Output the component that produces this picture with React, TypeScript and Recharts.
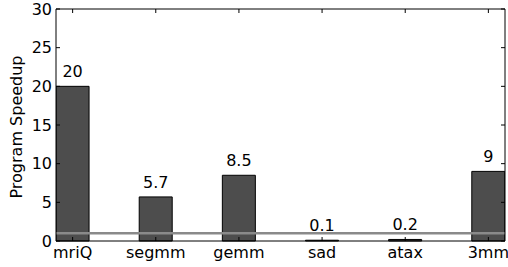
import React from 'react';
import { BarChart, Bar, XAxis, YAxis, ReferenceLine, LabelList } from 'recharts';

const benchmarks = ['mriQ', 'segmm', 'gemm', 'sad', 'atax', '3mm'];
const speedups = [20, 5.7, 8.5, 0.1, 0.2, 9];
const yTicks = [0, 5, 10, 15, 20, 25, 30];
const xTicks = [0, 1, 2, 3, 4, 5];
const baseline = 1;

const data = benchmarks.map((name, i) => ({ pos: i, name, speedup: speedups[i] }));

const FONT = '"DejaVu Sans", sans-serif';

const BottomTick: React.FC<any> = ({ x, y, payload }) => (
  <g>
    <line x1={x} y1={y} x2={x} y2={y - 4} stroke="#000" />
    <text x={x} y={y + 17} textAnchor="middle" fontSize={16} fontFamily={FONT} fill="#000">
      {benchmarks[payload.value]}
    </text>
  </g>
);

const TopTick: React.FC<any> = ({ x, y }) => (
  <line x1={x} y1={y} x2={x} y2={y + 4} stroke="#000" />
);

const LeftTick: React.FC<any> = ({ x, y, payload }) => (
  <g>
    <line x1={x} y1={y} x2={x + 4} y2={y} stroke="#000" />
    <text x={x - 4} y={y + 5.5} textAnchor="end" fontSize={16} fontFamily={FONT} fill="#000">
      {payload.value}
    </text>
  </g>
);

const RightTick: React.FC<any> = ({ x, y }) => (
  <line x1={x} y1={y} x2={x - 4} y2={y} stroke="#000" />
);

const AxisTitle: React.FC<any> = () => (
  <text
    x={22}
    y={127}
    transform="rotate(-90 22 127)"
    textAnchor="middle"
    fontSize={16}
    fontFamily={FONT}
    fill="#000"
  >
    Program Speedup
  </text>
);

export default function App() {
  return (
    <div style={{ position: 'fixed', left: 0, top: 0, background: '#fff' }}>
      <BarChart width={508} height={267} data={data} margin={{ top: 9, right: 3, bottom: 0, left: 0 }}>
        <XAxis
          dataKey="pos"
          type="number"
          domain={[-0.2, 5.2]}
          ticks={xTicks}
          allowDataOverflow
          height={26}
          tickSize={0}
          tickMargin={0}
          tickLine={false}
          axisLine={{ stroke: '#000' }}
          tick={<BottomTick />}
          interval={0}
        />
        <XAxis
          xAxisId="top"
          orientation="top"
          dataKey="pos"
          type="number"
          domain={[-0.2, 5.2]}
          ticks={xTicks}
          allowDataOverflow
          height={1}
          mirror
          tickSize={0}
          tickMargin={0}
          tickLine={false}
          axisLine={{ stroke: '#000' }}
          tick={<TopTick />}
          interval={0}
        />
        <YAxis
          type="number"
          domain={[0, 30]}
          ticks={yTicks}
          width={56}
          tickSize={0}
          tickMargin={0}
          tickLine={false}
          axisLine={{ stroke: '#000' }}
          tick={<LeftTick />}
          interval={0}
          label={<AxisTitle />}
        />
        <YAxis
          yAxisId="right"
          orientation="right"
          type="number"
          domain={[0, 30]}
          ticks={yTicks}
          allowDataOverflow
          width={1}
          mirror
          tickSize={0}
          tickMargin={0}
          tickLine={false}
          axisLine={{ stroke: '#000' }}
          tick={<RightTick />}
          interval={0}
        />
        <Bar dataKey="speedup" fill="#4d4d4d" stroke="#000" strokeWidth={1} barSize={33} isAnimationActive={false}>
          <LabelList dataKey="speedup" position="top" offset={9} fontSize={16} fontFamily={FONT} fill="#000" />
        </Bar>
        <ReferenceLine y={baseline} stroke="#8a8a8a" strokeWidth={2.5} />
      </BarChart>
    </div>
  );
}
